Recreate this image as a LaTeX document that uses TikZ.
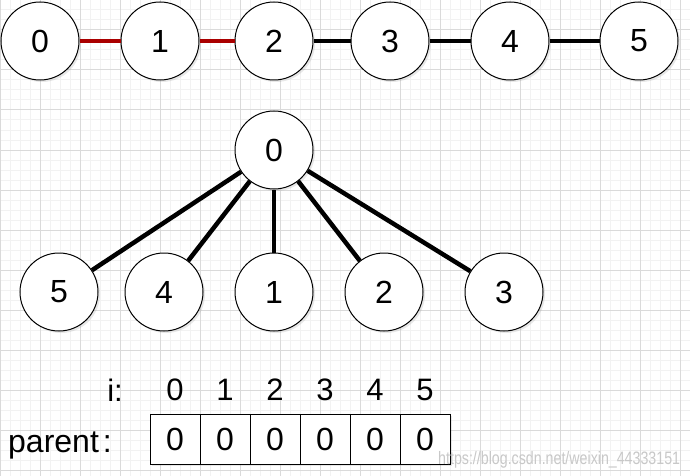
\documentclass[tikz,border=0pt]{standalone}
\usepackage{fontspec}
\setmainfont{Liberation Sans}
\usetikzlibrary{shadows}
\definecolor{gridminor}{RGB}{242,242,242}
\definecolor{gridmajor}{RGB}{218,218,218}
\definecolor{edgered}{RGB}{170,0,0}
\definecolor{wmgray}{RGB}{200,200,200}
\begin{document}
\begin{tikzpicture}[x=1pt,y=-1pt,
  vtx/.style={circle,draw=black,line width=1pt,fill=white,minimum size=78pt,inner sep=0pt,
    font=\fontsize{32}{38}\selectfont,
    drop shadow={shadow xshift=2pt,shadow yshift=-2pt,opacity=0.18}},
  cellbox/.style={draw=black,line width=1pt,fill=white,minimum width=50pt,minimum height=50pt,inner sep=0pt,
    font=\fontsize{32}{38}\selectfont,
    drop shadow={shadow xshift=2pt,shadow yshift=-2pt,opacity=0.18}},
  idx/.style={inner sep=0pt,font=\fontsize{31}{36}\selectfont},
  redge/.style={edgered,line width=4pt},
  bedge/.style={black,line width=4pt},
  tedge/.style={black,line width=4.5pt}]
\useasboundingbox (0,0) rectangle (690,476);
\fill[white] (0,0) rectangle (690,476);
% grid
\foreach \x in {0,10,...,690} \draw[gridminor,line width=1pt] (\x,0) -- (\x,476);
\foreach \y in {0,10,...,470} \draw[gridminor,line width=1pt] (0,\y) -- (690,\y);
\foreach \x in {0,40,...,680} \draw[gridmajor,line width=1pt] (\x,0) -- (\x,476);
\foreach \y in {30,70,...,470} \draw[gridmajor,line width=1pt] (0,\y) -- (690,\y);
% top row
\node[vtx] (t0) at (40,41) {0};
\node[vtx] (t1) at (160,41) {1};
\node[vtx] (t2) at (274,41) {2};
\node[vtx] (t3) at (390,41) {3};
\node[vtx] (t4) at (510,41) {4};
\node[vtx] (t5) at (639,41) {5};
\draw[redge] (t0) -- (t1);
\draw[redge] (t1) -- (t2);
\draw[bedge] (t2) -- (t3);
\draw[bedge] (t3) -- (t4);
\draw[bedge] (t4) -- (t5);
% tree
\node[vtx] (r0) at (274,150) {0};
\node[vtx] (k5) at (59,292) {5};
\node[vtx] (k4) at (164,292) {4};
\node[vtx] (k1) at (274,292) {1};
\node[vtx] (k2) at (384,292) {2};
\node[vtx] (k3) at (504,292) {3};
\draw[tedge] (r0) -- (k5);
\draw[tedge] (r0) -- (k4);
\draw[tedge] (r0) -- (k1);
\draw[tedge] (r0) -- (k2);
\draw[tedge] (r0) -- (k3);
% array
\node[idx] (ilab) at (115,390) {i:};
\node[idx] (i0) at (175,390) {0};
\node[idx] (i1) at (225,390) {1};
\node[idx] (i2) at (275,390) {2};
\node[idx] (i3) at (325,390) {3};
\node[idx] (i4) at (375,390) {4};
\node[idx] (i5) at (425,390) {5};
\node[cellbox] (c0) at (175,439) {0};
\node[cellbox] (c1) at (225,439) {0};
\node[cellbox] (c2) at (275,439) {0};
\node[cellbox] (c3) at (325,439) {0};
\node[cellbox] (c4) at (375,439) {0};
\node[cellbox] (c5) at (425,439) {0};
\node[anchor=base west,inner sep=0pt,font=\fontsize{32}{38}\selectfont] (plab) at (8,452) {parent\kern4pt:};
% watermark
\node[anchor=west,inner sep=0pt,text=wmgray] (wm) at (438,460)
  {\scalebox{0.79}[1]{\fontsize{18}{20}\selectfont https://blog.csdn.net/weixin\_44333151}};
\end{tikzpicture}
\end{document}
